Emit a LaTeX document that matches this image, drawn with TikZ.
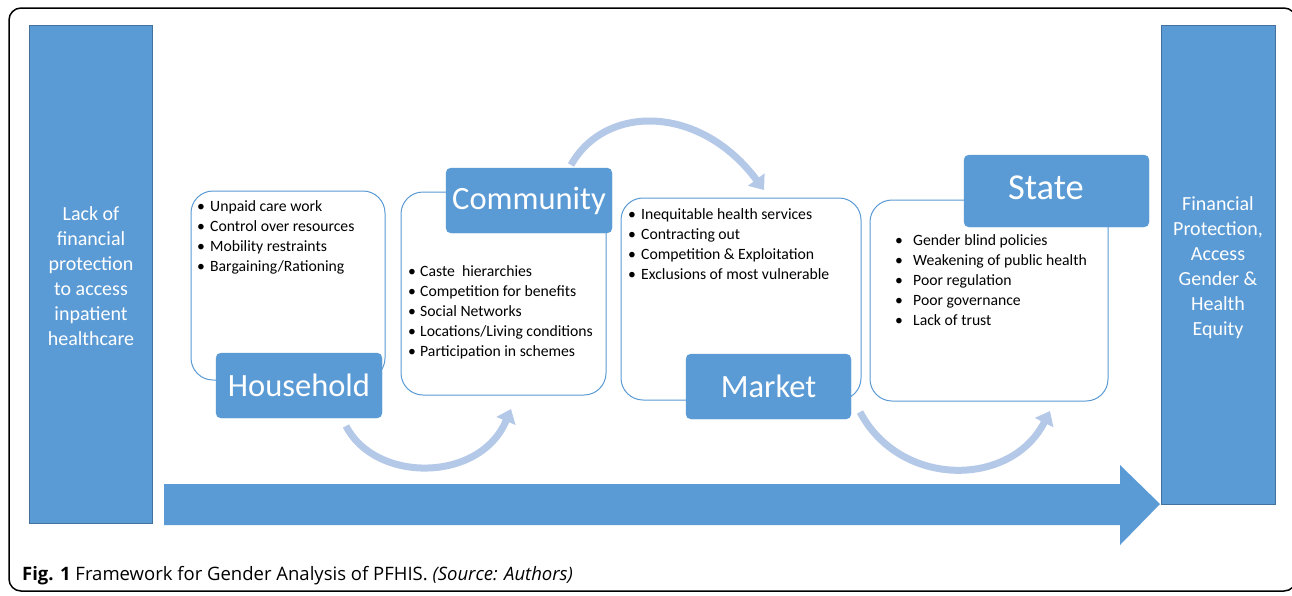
\documentclass[tikz,border=0pt]{standalone}
\usepackage{fontspec}
\setmainfont{Carlito}
\newfontfamily\capfont{Open Sans}
\usetikzlibrary{arrows.meta}
\definecolor{mblue}{HTML}{5B9BD5}
\definecolor{dblue}{HTML}{41719C}
\definecolor{lblue}{HTML}{B4C8E8}
\newcommand{\bi}[2]{\makebox[#1][l]{\textbullet}#2}
\begin{document}
\begin{tikzpicture}[x=1pt,y=-1pt,
  bigbox/.style={draw=dblue, fill=mblue, line width=0.8pt},
  sidetext/.style={text=white, align=center, inner sep=0pt,
    font=\fontsize{20}{25}\selectfont},
  outline/.style={draw=mblue, line width=1pt, rounded corners=22pt, fill=white},
  lab/.style={fill=mblue, draw=mblue, rounded corners=5pt, text=white,
    font=\fontsize{32.5}{36}\selectfont},
  curved/.style={draw=lblue, line width=7pt, -{Triangle[length=13pt,width=20pt]}},
  bullets/.style={align=left, anchor=north west, inner sep=0pt,
    font=\fontsize{15.7}{20}\selectfont}]
\useasboundingbox (0,0) rectangle (1292,595);
\fill[white] (0,0) rectangle (1292,595);
\draw[line width=1.5pt, rounded corners=12pt] (9,8) rectangle (1296,591);

% side boxes
\node[bigbox, minimum width=123pt, minimum height=498pt] (lack) at (90.5,274) {};
\node[sidetext] (lacktxt) at (91,276)
  {Lack of\\financial\\protection\\to access\\inpatient\\healthcare};
\node[bigbox, minimum width=114pt, minimum height=479pt] (goal) at (1218,264.5) {};
\node[sidetext] (goaltxt) at (1218,267.5)
  {Financial\\Protection,\\Access\\Gender \&\\Health\\Equity};

% big arrow
\fill[mblue] (164,484) -- (1120,484) -- (1120,465) -- (1160,504) -- (1120,545) -- (1120,525) -- (164,525) -- cycle;

% outline boxes
\node[outline, minimum width=194pt, minimum height=189pt] (hhbox) at (288,285.5) {};
\node[outline, minimum width=205pt, minimum height=203pt] (cobox) at (503.5,293.5) {};
\node[outline, minimum width=240pt, minimum height=202pt] (mkbox) at (741,299) {};
\node[outline, minimum width=238pt, minimum height=201pt] (stbox) at (989,300.5) {};

% labels
\node[lab, minimum width=166pt, minimum height=65pt] (hh) at (299,385.5) {Household};
\node[lab, minimum width=166pt, minimum height=65pt] (co) at (529,200.5) {Community};
\node[lab, minimum width=165pt, minimum height=65pt] (mk) at (768.5,386.5) {Market};
\node[lab, minimum width=185pt, minimum height=72pt] (st) at (1056.5,191) {};
\node[text=white, font=\fontsize{36.5}{40}\selectfont, inner sep=0pt] (sttxt) at (1046,188) {State};

% bullet lists
\node[bullets] (hhlist) at (197,200)
  {\bi{13pt}{Unpaid care work}\\\bi{13pt}{Control over resources}\\\bi{13pt}{Mobility restraints}\\\bi{13pt}{Bargaining/Rationing}};
\node[bullets] (colist) at (408,265)
  {\bi{12pt}{Caste\ \ hierarchies}\\\bi{12pt}{Competition for benefits}\\\bi{12pt}{Social Networks}\\\bi{12pt}{Locations/Living conditions}\\\bi{12pt}{Participation in schemes}};
\node[bullets] (mklist) at (628,208)
  {\bi{13pt}{Inequitable health services}\\\bi{13pt}{Contracting out}\\\bi{13pt}{Competition \& Exploitation}\\\bi{13pt}{Exclusions of most vulnerable}};
\node[bullets] (stlist) at (895,234)
  {\bi{18pt}{Gender blind policies}\\\bi{18pt}{Weakening of public health}\\\bi{18pt}{Poor regulation}\\\bi{18pt}{Poor governance}\\\bi{18pt}{Lack of trust}};

% curved arrows
\coordinate (hhout) at (346,426);
\coordinate (coin) at (511,409);
\coordinate (coout) at (571,165);
\coordinate (mkin) at (764,190);
\coordinate (mkout) at (860,412);
\coordinate (stin) at (1050,411);
\draw[curved] (hhout) .. controls (375,483) and (480,483) .. (coin);
\draw[curved] (coout) .. controls (605,104) and (700,104) .. (mkin);
\draw[curved] (mkout) .. controls (900,488) and (1011,488) .. (stin);

% caption
\node[anchor=west, inner sep=0pt, font=\capfont\fontsize{18.5}{22}\selectfont] (cap) at (22,576)
  {\textbf{Fig. 1} Framework for Gender Analysis of PFHIS. \textit{(Source: Authors)}};
\end{tikzpicture}
\end{document}
